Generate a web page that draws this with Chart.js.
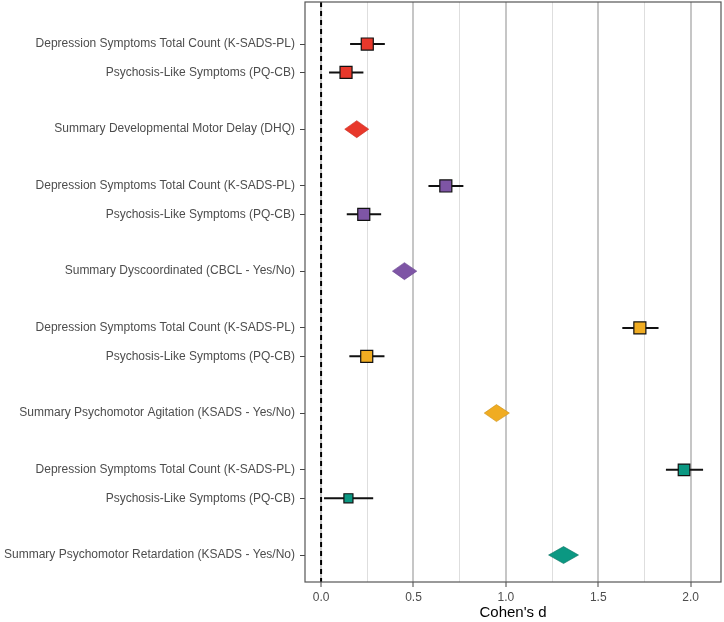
<!DOCTYPE html>
<html>
<head>
<meta charset="utf-8">
<script src="https://cdn.jsdelivr.net/npm/chart.js@4.4.1/dist/chart.umd.min.js"></script>
<style>
  html, body { margin: 0; padding: 0; background: #ffffff; }
  #wrap { width: 724px; height: 622px; }
</style>
</head>
<body>
<div id="wrap"><canvas id="c" width="724" height="622"></canvas></div>
<script>
// ---- data ----
const rowLabels = [
  "Depression Symptoms Total Count (K-SADS-PL)",
  "Psychosis-Like Symptoms (PQ-CB)",
  "Summary Developmental Motor Delay (DHQ)",
  "Depression Symptoms Total Count (K-SADS-PL)",
  "Psychosis-Like Symptoms (PQ-CB)",
  "Summary Dyscoordinated (CBCL - Yes/No)",
  "Depression Symptoms Total Count (K-SADS-PL)",
  "Psychosis-Like Symptoms (PQ-CB)",
  "Summary Psychomotor Agitation (KSADS - Yes/No)",
  "Depression Symptoms Total Count (K-SADS-PL)",
  "Psychosis-Like Symptoms (PQ-CB)",
  "Summary Psychomotor Retardation (KSADS - Yes/No)"
];
const rowPos = [0, 1, 3, 5, 6, 8, 10, 11, 13, 15, 16, 18];

const studyRow = [0, 1, 5, 6, 10, 11, 15, 16];
const studyEst = [0.250, 0.135, 0.675, 0.231, 1.725, 0.247, 1.964, 0.148];
const studyLo  = [0.157, 0.043, 0.581, 0.139, 1.630, 0.153, 1.866, 0.016];
const studyHi  = [0.345, 0.229, 0.770, 0.325, 1.826, 0.343, 2.067, 0.282];
const studyGroup = [0, 0, 1, 1, 2, 2, 3, 3];

const summaryRow = [3, 8, 13, 18];
const summaryEst = [0.193, 0.451, 0.949, 1.312];
const summaryLo  = [0.128, 0.386, 0.883, 1.231];
const summaryHi  = [0.258, 0.518, 1.019, 1.393];

const xTicks = [0, 0.25, 0.5, 0.75, 1.0, 1.25, 1.5, 1.75, 2.0];

// ---- styles ----
const groupColors = ['#E8382B', '#7E55A5', '#F0AC22', '#0B9882'];
const groupEdges  = ['#C92E22', '#6A4590', '#C98F16', '#08705F'];
const studySizes  = [8.5, 8.5, 8.5, 8.5, 8.5, 8.5, 8.2, 6.4];
const FONT = "'Liberation Sans', Arial, Helvetica, sans-serif";
const isMajor = v => Math.abs(v * 2 - Math.round(v * 2)) < 1e-9;

const forestPlugin = {
  id: 'forest',
  beforeDatasetsDraw(chart) {
    const {ctx, chartArea, scales: {x, y}} = chart;
    ctx.save();
    // zero reference line
    const x0 = x.getPixelForValue(0);
    ctx.strokeStyle = '#000';
    ctx.lineWidth = 2;
    ctx.setLineDash([5, 4]);
    ctx.beginPath();
    ctx.moveTo(x0, chartArea.top);
    ctx.lineTo(x0, chartArea.bottom);
    ctx.stroke();
    ctx.setLineDash([]);
    // whiskers
    ctx.strokeStyle = '#111';
    ctx.lineWidth = 2;
    studyRow.forEach((r, i) => {
      const py = y.getPixelForValue(r);
      ctx.beginPath();
      ctx.moveTo(x.getPixelForValue(studyLo[i]), py);
      ctx.lineTo(x.getPixelForValue(studyHi[i]), py);
      ctx.stroke();
    });
    // summary diamonds
    summaryRow.forEach((r, i) => {
      const py = y.getPixelForValue(r);
      const h = 8.5;
      ctx.beginPath();
      ctx.moveTo(x.getPixelForValue(summaryLo[i]), py);
      ctx.lineTo(x.getPixelForValue(summaryEst[i]), py - h);
      ctx.lineTo(x.getPixelForValue(summaryHi[i]), py);
      ctx.lineTo(x.getPixelForValue(summaryEst[i]), py + h);
      ctx.closePath();
      ctx.fillStyle = groupColors[i];
      ctx.fill();
      ctx.strokeStyle = groupEdges[i];
      ctx.lineWidth = 0.6;
      ctx.stroke();
    });
    ctx.restore();
  },
  afterDraw(chart) {
    const {ctx, chartArea} = chart;
    ctx.save();
    ctx.strokeStyle = '#555';
    ctx.lineWidth = 1.2;
    ctx.strokeRect(chartArea.left, chartArea.top, chartArea.right - chartArea.left, chartArea.bottom - chartArea.top);
    ctx.restore();
  }
};

new Chart(document.getElementById('c'), {
  type: 'scatter',
  data: {
    datasets: [{
      data: studyRow.map((r, i) => ({x: studyEst[i], y: r})),
      pointStyle: 'rect',
      pointRadius: studySizes,
      pointHoverRadius: studySizes,
      backgroundColor: studyGroup.map(g => groupColors[g]),
      borderColor: '#111',
      borderWidth: 1.2
    }]
  },
  options: {
    responsive: false,
    animation: false,
    events: [],
    layout: { autoPadding: false, padding: { top: 2, right: 3, left: 0, bottom: 0 } },
    plugins: { legend: { display: false }, tooltip: { enabled: false } },
    scales: {
      x: {
        type: 'linear',
        min: -0.087,
        max: 2.164,
        afterBuildTicks: s => { s.ticks = xTicks.map(v => ({value: v})); },
        afterFit: s => { s.height = 40; s.paddingLeft = 0; s.paddingRight = 0; },
        border: { display: false },
        grid: {
          color: c => (isMajor(c.tick.value) ? '#c6c6c6' : '#dedede'),
          lineWidth: c => (isMajor(c.tick.value) ? 2 : 1),
          tickColor: c => (isMajor(c.tick.value) ? '#444' : 'rgba(0,0,0,0)'),
          tickWidth: 1,
          tickLength: 5
        },
        ticks: {
          autoSkip: false,
          maxRotation: 0,
          padding: 3,
          color: '#4d4d4d',
          font: { family: FONT, size: 12 },
          callback: v => (isMajor(v) ? v.toFixed(1) : '')
        },
        title: {
          display: true,
          text: "Cohen's d",
          color: '#000',
          font: { family: FONT, size: 15 },
          padding: { top: 0, bottom: 0 }
        }
      },
      y: {
        type: 'linear',
        reverse: true,
        min: -1.48,
        max: 18.95,
        afterBuildTicks: s => { s.ticks = rowPos.map(v => ({value: v})); },
        afterFit: s => { s.width = 305; s.paddingTop = 0; s.paddingBottom = 0; },
        border: { display: false },
        grid: {
          drawOnChartArea: false,
          tickColor: '#444',
          tickWidth: 1,
          tickLength: 5
        },
        ticks: {
          autoSkip: false,
          padding: 5,
          color: '#4d4d4d',
          font: { family: FONT, size: 12 },
          callback: v => rowLabels[rowPos.indexOf(v)]
        }
      }
    }
  },
  plugins: [forestPlugin]
});
</script>
</body>
</html>
